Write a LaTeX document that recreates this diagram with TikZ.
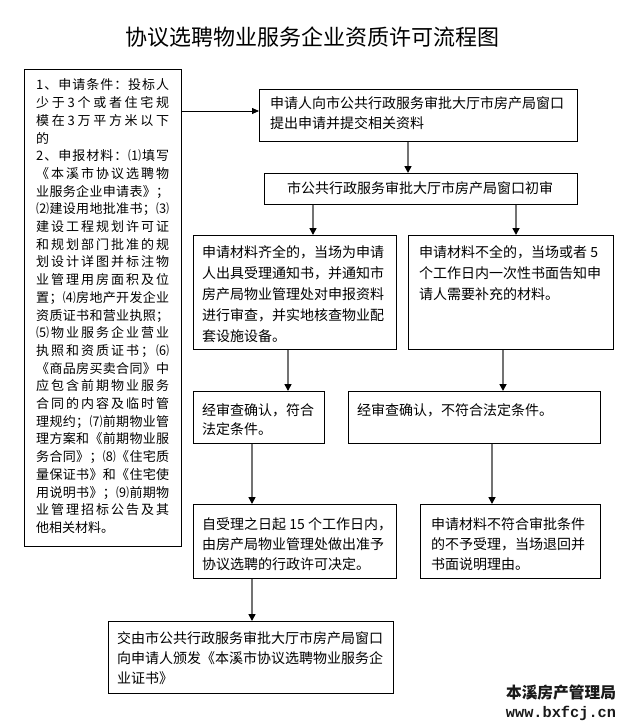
\documentclass[tikz,border=0pt]{standalone}
\usepackage{fontspec}
\setmainfont{Noto Sans CJK SC}
\newfontfamily\wmmono{Liberation Mono}
\usetikzlibrary{arrows.meta}
\def\spr#1{\hbox to 133pt{\sprA#1\relax\relax}}
\def\sprA#1#2{#1\ifx\relax#2\else\hfill\expandafter\sprA\expandafter#2\fi}
\tikzset{
  box/.style={draw=black, line width=0.8pt, inner sep=0pt, anchor=north west},
  txt/.style={inner sep=0pt, anchor=base west, align=left, font=\fontsize{14}{20}\selectfont},
  conn/.style={draw=black!55, line width=1.6pt, -{Triangle[length=7pt,width=7pt,color=black]}},
  hconn/.style={draw=black, line width=0.8pt, -{Triangle[length=7pt,width=6pt,color=black]}}
}
\begin{document}
\begin{tikzpicture}[x=1pt,y=-1pt]
\useasboundingbox (0,0) rectangle (632,728);
% title
\node[inner sep=0pt, font=\fontsize{22}{26}\selectfont] (title) at (312,37) {协议选聘物业服务企业资质许可流程图};
% boxes
\node[box, minimum width=157pt, minimum height=477pt] (left) at (24,69) {};
\node[box, minimum width=318pt, minimum height=52pt] (b1) at (259,89) {};
\node[box, minimum width=313pt, minimum height=31pt] (b2) at (264,173) {};
\node[box, minimum width=203pt, minimum height=114pt] (b3) at (193,235) {};
\node[box, minimum width=205pt, minimum height=114pt] (b4) at (408,235) {};
\node[box, minimum width=131pt, minimum height=52pt] (b5) at (193,391) {};
\node[box, minimum width=252pt, minimum height=52pt] (b6) at (348,391) {};
\node[box, minimum width=203pt, minimum height=74pt] (b7) at (193,504) {};
\node[box, minimum width=180pt, minimum height=74pt] (b8) at (420,504) {};
\node[box, minimum width=285pt, minimum height=72pt] (b9) at (108,621) {};
% texts (anchor = baseline of the last line)
\node[inner sep=0pt, anchor=base west, align=left, font=\fontsize{13}{17.7}\selectfont]
  (lefttext) at (36,532.4) {%
\spr{1、申请条件：投标人}\\
\spr{少于3个或者住宅规}\\
\spr{模在3万平方米以下}\\
的\\
\spr{2、申报材料：⑴填写}\\
\spr{《本溪市协议选聘物}\\
\spr{业服务企业申请表》；}\\
\spr{⑵建设用地批准书；⑶}\\
\spr{建设工程规划许可证}\\
\spr{和规划部门批准的规}\\
\spr{划设计详图并标注物}\\
\spr{业管理用房面积及位}\\
\spr{置；⑷房地产开发企业}\\
\spr{资质证书和营业执照；}\\
\spr{⑸物业服务企业营业}\\
\spr{执照和资质证书；⑹}\\
\spr{《商品房买卖合同》中}\\
\spr{应包含前期物业服务}\\
\spr{合同的内容及临时管}\\
\spr{理规约；⑺前期物业管}\\
\spr{理方案和《前期物业服}\\
\spr{务合同》；⑻《住宅质}\\
\spr{量保证书》和《住宅使}\\
\spr{用说明书》；⑼前期物}\\
\spr{业管理招标公告及其}\\
他相关材料。};
\node[txt] (t1) at (270,128.3) {申请人向市公共行政服务审批大厅市房产局窗口\\提出申请并提交相关资料};
\node[inner sep=0pt, anchor=base, font=\fontsize{14}{20}\selectfont] (t2) at (420,193.3) {市公共行政服务审批大厅市房产局窗口初审};
\node[txt, font=\fontsize{14}{21}\selectfont] (t3) at (202,341.3) {申请材料齐全的，当场为申请\\人出具受理通知书，并通知市\\房产局物业管理处对申报资料\\进行审查，并实地核查物业配\\套设施设备。};
\node[txt, font=\fontsize{14}{21}\selectfont] (t4) at (419,299.3) {申请材料不全的，当场或者 5\\个工作日内一次性书面告知申\\请人需要补充的材料。};
\node[txt, font=\fontsize{14}{19.5}\selectfont] (t5) at (202,434.8) {经审查确认，符合\\法定条件。};
\node[txt] (t6) at (357,415.3) {经审查确认，不符合法定条件。};
\node[txt] (t7) at (202,569.3) {自受理之日起 15 个工作日内，\\由房产局物业管理处做出准予\\协议选聘的行政许可决定。};
\node[txt] (t8) at (431,569.3) {申请材料不符合审批条件\\的不予受理，当场退回并\\书面说明理由。};
\node[txt] (t9) at (117,683.3) {交由市公共行政服务审批大厅市房产局窗口\\向申请人颁发《本溪市协议选聘物业服务企\\业证书》};
% watermark
\node[inner sep=0pt, text=black!90, font=\fontsize{15.7}{18}\selectfont\bfseries] (wm1) at (561,693) {本溪房产管理局};
\node[inner sep=0pt, text=black!90, font=\wmmono\fontsize{15.3}{18}\selectfont\bfseries] (wm2) at (561,713) {www.bxfcj.cn};
% connector positions
\coordinate (ya) at (0,111);
\coordinate (xa) at (408,0);
\coordinate (xb) at (313,0);
\coordinate (xc) at (516,0);
\coordinate (xd) at (288,0);
\coordinate (xe) at (503,0);
\coordinate (xf) at (252,0);
\coordinate (xg) at (492,0);
% connectors
\draw[hconn] (left.east |- ya) -- (b1.west |- ya);
\draw[conn] (b1.south -| xa) -- (b2.north -| xa);
\draw[conn] (b2.south -| xb) -- (b3.north -| xb);
\draw[conn] (b2.south -| xc) -- (b4.north -| xc);
\draw[conn] (b3.south -| xd) -- (b5.north -| xd);
\draw[conn] (b4.south -| xe) -- (b6.north -| xe);
\draw[conn] (b5.south -| xf) -- (b7.north -| xf);
\draw[conn] (b6.south -| xg) -- (b8.north -| xg);
\draw[conn] (b7.south -| xf) -- (b9.north -| xf);
\end{tikzpicture}
\end{document}
